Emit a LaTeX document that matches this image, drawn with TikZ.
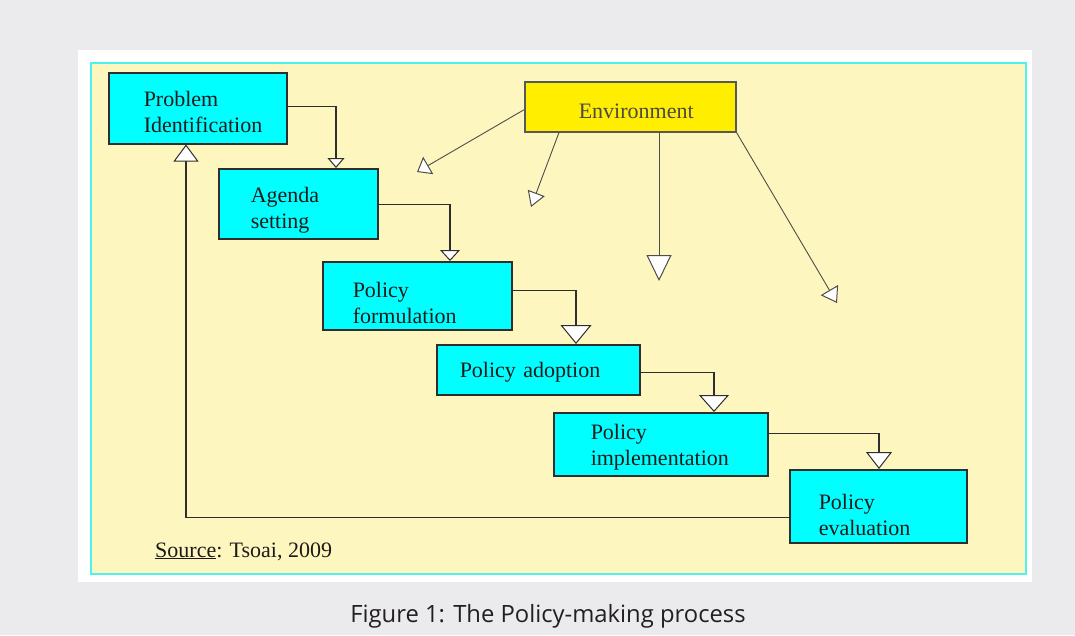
\documentclass[tikz,border=0pt]{standalone}
\usepackage{fontspec}
\setmainfont{Liberation Serif}
\newfontfamily\capfont{Open Sans}
\usetikzlibrary{arrows.meta,calc}
\definecolor{bggray}{HTML}{EBEBED}
\definecolor{paleyellow}{HTML}{FEF6BF}
\definecolor{cyanborder}{HTML}{4DF2EE}
\definecolor{boxcyan}{HTML}{00FFFF}
\definecolor{envyellow}{HTML}{FFEE00}
\definecolor{linegray}{HTML}{2E2E2E}
\definecolor{textdark}{HTML}{1E1A1A}
\definecolor{captext}{HTML}{231F20}
\begin{document}
\begin{tikzpicture}[x=1pt,y=-1pt,
  lskip/.style 2 args={execute at begin node={\leftskip=#1\relax\rule{0pt}{#2}}},
  box/.style={draw=linegray, line width=1.5pt, fill=boxcyan, anchor=north west,
    inner xsep=0pt, inner ysep=0pt, align=left, text=textdark,
    font=\fontsize{22}{26}\selectfont},
  conn/.style 2 args={draw=linegray, line width=1.2pt,
    -{Triangle[width=#1pt,length=#2pt,fill=white,line width=1pt]}},
  envline/.style 2 args={draw=linegray!85, line width=0.9pt,
    -{Triangle[width=#1pt,length=#2pt,fill=white,line width=1pt]}}]
\useasboundingbox (0,0) rectangle (1075,635);
\fill[bggray] (0,0) rectangle (1075,635);
\fill[white] (78,50) rectangle (1032,582);
\filldraw[fill=paleyellow, draw=cyanborder, line width=1.5pt] (91,63) rectangle (1026,574);

% boxes
\node[box, minimum width=178pt, minimum height=71pt, text width=178pt, lskip={35pt}{23pt}] (pi) at (108,72) {Problem\\Identification};
\node[box, minimum width=159pt, minimum height=70pt, text width=159pt, lskip={32pt}{29pt}] (as) at (218,168) {Agenda\\setting};
\node[box, minimum width=189pt, minimum height=68pt, text width=189pt, lskip={30pt}{29pt}] (pf) at (322,261) {Policy\\formulation};
\node[box, minimum width=203pt, minimum height=50pt, text width=203pt, lskip={23pt}{21pt}] (pa) at (436,344) {Policy adoption};
\node[box, minimum width=214pt, minimum height=63pt, text width=214pt, lskip={37pt}{21pt}] (pim) at (553,412) {Policy\\implementation};
\node[box, minimum width=177pt, minimum height=73pt, text width=177pt, lskip={29pt}{33pt}] (pe) at (789,469) {Policy\\evaluation};
\node[box, fill=envyellow, draw=linegray!80, minimum width=211pt, minimum height=50pt, text width=211pt, lskip={54pt}{23pt}, text=textdark!80] (env) at (524,81) {Environment};

% flow connectors
\draw[conn={17}{10}] ([yshift=1.5pt]pi.east) -| ([xshift=118pt]as.north west);
\draw[conn={20}{11}] ([yshift=-1pt]as.east) -| ([xshift=128pt]pf.north west);
\draw[conn={31}{19}] ([yshift=5pt]pf.east) -| ([xshift=140pt]pa.north west);
\draw[conn={30}{17}] ([yshift=-3pt]pa.east) -| ([xshift=161pt]pim.north west);
\draw[conn={26}{17}] ([yshift=10.5pt]pim.east) -| ([xshift=90pt]pe.north west);
\draw[conn={25}{17}] ([yshift=-11.5pt]pe.west) -| ([xshift=78pt]pi.south west);

% environment influences
\coordinate (e1) at (417,172);
\coordinate (e2) at (531,207);
\coordinate (e3) at (659,281);
\coordinate (e4) at (837,303);
\draw[envline={20}{13}] ([yshift=-3pt]env.west) -- (e1);
\draw[envline={18}{15}] ([xshift=35pt]env.south west) -- (e2);
\draw[envline={25}{26}] ([xshift=135pt]env.south west) -- (e3);
\draw[envline={20}{15}] (env.south east) -- (e4);

% source
\node[anchor=base west, inner sep=0pt, text=textdark, font=\fontsize{22}{26}\selectfont] (src) at (155,557) {\underline{Source}: Tsoai, 2009};

% caption
\node[anchor=base, inner sep=0pt, text=captext, font=\capfont\fontsize{23.8}{26}\selectfont] (cap) at (548,622) {Figure 1: The Policy-making process};
\end{tikzpicture}
\end{document}
